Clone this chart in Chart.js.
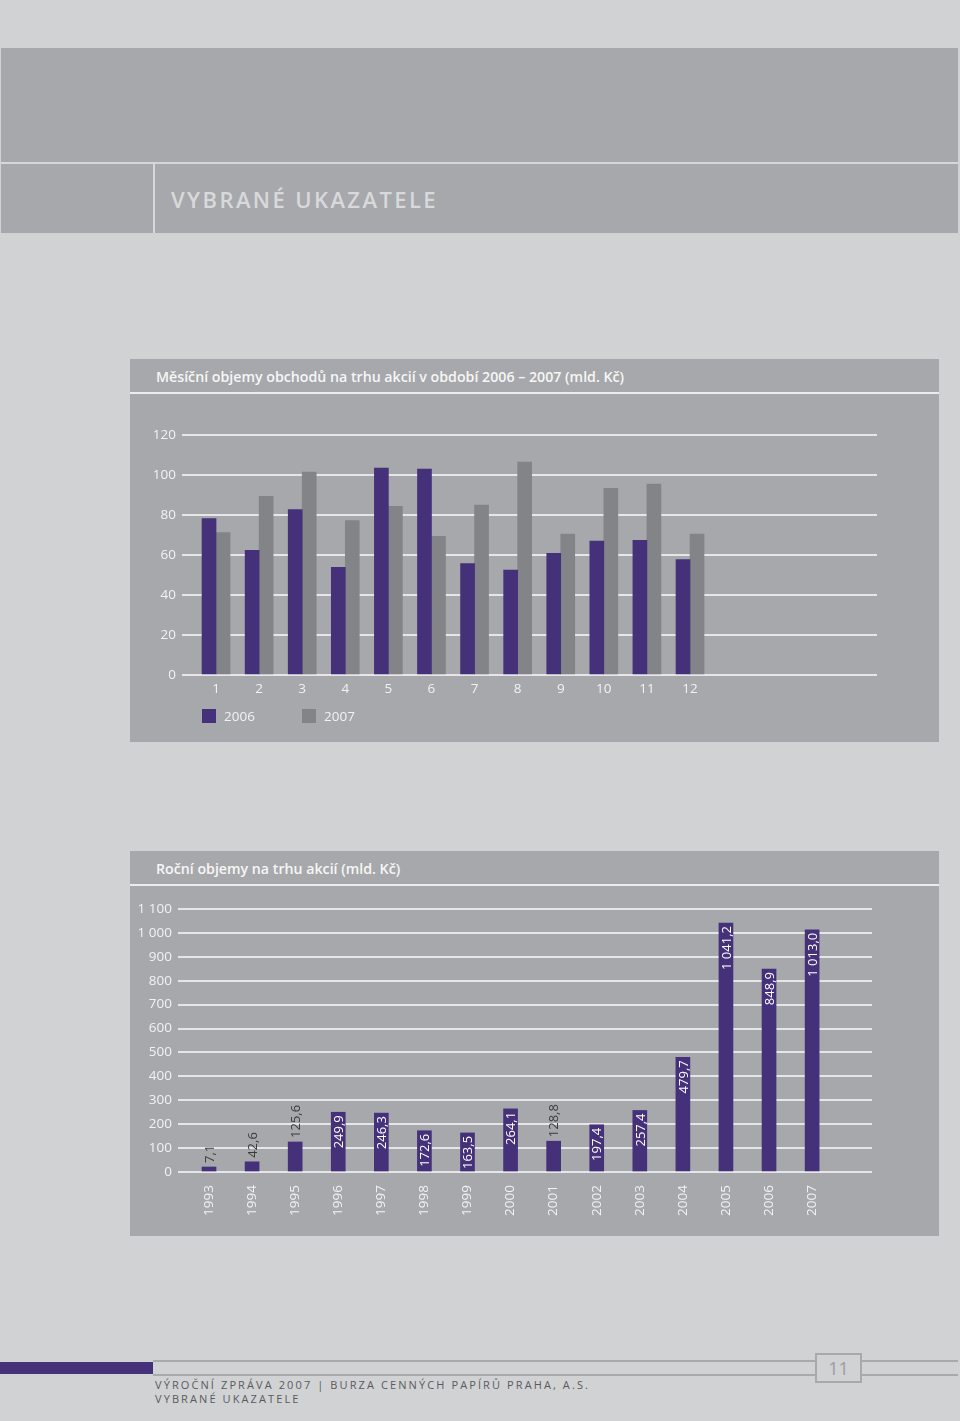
<!DOCTYPE html>
<html>
<head>
<meta charset="utf-8">
<script src="https://cdn.jsdelivr.net/npm/chart.js@4.4.0/dist/chart.umd.min.js"></script>
<style>
  body { margin: 0; width: 960px; height: 1421px; background: #d1d2d4; position: relative; overflow: hidden; font-family: "Open Sans", sans-serif; }
  .band { position: absolute; left: 1px; top: 48px; width: 957px; height: 185px; background: #a7a8ab; }
  .band .hline { position: absolute; left: 0; right: 0; top: 114px; height: 2px; background: #d6d7d9; }
  .band .vline { position: absolute; left: 152px; top: 116px; bottom: 0; width: 2px; background: #d6d7d9; }
  .band h1 { position: absolute; left: 170px; top: 136px; margin: 0; font-size: 22px; font-weight: 600; letter-spacing: 2.4px; color: #d8d9db; }
  .panel { position: absolute; left: 130px; width: 809px; background: #a7a8ab; }
  .panel .title { height: 33px; line-height: 36px; padding-left: 26px; color: #f6f6f6; font-weight: 600; font-size: 14.2px; border-bottom: 2px solid #ececee; }
  .panel .plot { position: absolute; left: 0; width: 809px; }
  .legend { position: absolute; top: 348px; left: 72px; font-size: 13.5px; color: #f2f2f2; }
  .legend span { position: absolute; white-space: nowrap; }
  .legend i { display: inline-block; width: 14px; height: 14px; vertical-align: -2px; margin-right: 8px; }
  .foot-bar { position: absolute; left: 0; top: 1362px; width: 153px; height: 12px; background: #45307a; }
  .foot-line { position: absolute; height: 2px; background: #a8a9ab; }
  .page-no { position: absolute; left: 815px; top: 1353px; width: 43px; height: 26px; border: 2px solid #a8a9ab; background: #d1d2d4; color: #9c9da0; font-size: 18px; text-align: center; line-height: 27px; }
  .foot-text { position: absolute; left: 155px; top: 1378px; font-size: 11px; line-height: 14px; letter-spacing: 2.1px; color: #5a5a5c; }
</style>
</head>
<body>

<div class="band">
  <div class="hline"></div>
  <div class="vline"></div>
  <h1>VYBRANÉ UKAZATELE</h1>
</div>

<div class="panel" style="top:359px;height:383px">
  <div class="title">Měsíční objemy obchodů na trhu akcií v období 2006 – 2007 (mld. Kč)</div>
  <div class="plot" style="top:34px;height:349px"><canvas id="monthly"></canvas></div>
  <div class="legend" id="monthly-legend"></div>
</div>

<div class="panel" style="top:851px;height:385px">
  <div class="title">Roční objemy na trhu akcií (mld. Kč)</div>
  <div class="plot" style="top:35px;height:350px"><canvas id="annual"></canvas></div>
</div>

<div class="foot-bar"></div>
<div class="foot-line" style="left:153px;width:662px;top:1360px"></div>
<div class="foot-line" style="left:153px;width:662px;top:1374px"></div>
<div class="foot-line" style="left:862px;width:96px;top:1360px"></div>
<div class="foot-line" style="left:862px;width:96px;top:1374px"></div>
<div class="page-no">11</div>
<div class="foot-text">VÝROČNÍ ZPRÁVA 2007 | BURZA CENNÝCH PAPÍRŮ PRAHA, A.S.<br>VYBRANÉ UKAZATELE</div>

<script>
// data
const MONTHS = [1, 2, 3, 4, 5, 6, 7, 8, 9, 10, 11, 12];
const VOL_2006 = [78.2, 62.3, 82.7, 53.8, 103.5, 103.0, 55.7, 52.5, 60.8, 67.0, 67.3, 57.7];
const VOL_2007 = [71.2, 89.3, 101.5, 77.2, 84.3, 69.3, 85.0, 106.5, 70.5, 93.3, 95.5, 70.5];

const YEARS = [1993, 1994, 1995, 1996, 1997, 1998, 1999, 2000, 2001, 2002, 2003, 2004, 2005, 2006, 2007];
const ANNUAL = [7.1, 42.6, 125.6, 249.9, 246.3, 172.6, 163.5, 264.1, 128.8, 197.4, 257.4, 479.7, 1041.2, 848.9, 1013.0];

const PURPLE = '#45307a';
const GREY = '#838487';
const GRID = '#e6e6e8';
const TICK = '#f2f2f2';
const FONT = { family: '"Open Sans", sans-serif', size: 13.5 };

// czech number format: 1 041,2
const fmtNum = (v, dec) => {
  const [i, d] = v.toFixed(dec).split('.');
  const int = i.replace(/\B(?=(\d{3})+$)/g, ' ');
  return d ? int + ',' + d : int;
};

// --- monthly chart ---
const monthlySets = [
  { label: '2006', data: VOL_2006, backgroundColor: PURPLE },
  { label: '2007', data: VOL_2007, backgroundColor: GREY }
];

new Chart(document.getElementById('monthly'), {
  type: 'bar',
  data: {
    labels: MONTHS,
    datasets: monthlySets.map(s => ({ ...s, barThickness: 14, borderWidth: 0 }))
  },
  options: {
    responsive: true,
    maintainAspectRatio: false,
    animation: false,
    layout: { padding: { top: 42, right: 62, left: 0, bottom: 0 } },
    plugins: { legend: { display: false }, tooltip: { enabled: false } },
    scales: {
      x: {
        type: 'linear',
        offset: false,
        min: 0.21,
        max: 16.34,
        grid: { display: false },
        border: { display: false },
        afterBuildTicks: s => { s.ticks = MONTHS.map(v => ({ value: v })); },
        afterFit: s => { s.height = 67; },
        ticks: { color: TICK, font: FONT, padding: -2, maxRotation: 0, autoSkip: false }
      },
      y: {
        min: 0,
        max: 120,
        grid: { color: GRID, lineWidth: 2, drawTicks: false },
        border: { display: false },
        afterFit: s => { s.width = 52; },
        ticks: { stepSize: 20, color: TICK, font: FONT, padding: 6 }
      }
    }
  }
});

// legend for the monthly chart
document.getElementById('monthly-legend').innerHTML = monthlySets.map((s, i) =>
  `<span style="left:${i * 100}px"><i style="background:${s.backgroundColor}"></i>${s.label}</span>`
).join('');

// --- annual chart ---
const barValueLabels = {
  id: 'barValueLabels',
  afterDatasetsDraw(chart) {
    const ctx = chart.ctx;
    const meta = chart.getDatasetMeta(0);
    ctx.save();
    ctx.font = '13px "Open Sans", sans-serif';
    ctx.textBaseline = 'middle';
    meta.data.forEach((bar, i) => {
      const txt = fmtNum(ANNUAL[i], 1);
      const w = ctx.measureText(txt).width;
      const inside = w + 4 < bar.base - bar.y;
      ctx.save();
      ctx.translate(bar.x, bar.y);
      ctx.rotate(-Math.PI / 2);
      if (inside) {
        ctx.textAlign = 'right';
        ctx.fillStyle = '#ffffff';
        ctx.fillText(txt, -3, 1);
      } else {
        ctx.textAlign = 'left';
        ctx.fillStyle = '#3a3a3c';
        ctx.fillText(txt, 4, 1);
      }
      ctx.restore();
    });
    ctx.restore();
  }
};

new Chart(document.getElementById('annual'), {
  type: 'bar',
  data: {
    labels: YEARS,
    datasets: [{ label: 'Roční objem', data: ANNUAL, backgroundColor: PURPLE, barThickness: 14, borderWidth: 0, minBarLength: 5 }]
  },
  options: {
    responsive: true,
    maintainAspectRatio: false,
    animation: false,
    layout: { padding: { top: 23, right: 67, left: 0, bottom: 0 } },
    plugins: { legend: { display: false }, tooltip: { enabled: false } },
    scales: {
      x: {
        type: 'linear',
        offset: false,
        min: 1992.28,
        max: 2008.39,
        grid: { display: false },
        border: { display: false },
        afterBuildTicks: s => { s.ticks = YEARS.map(v => ({ value: v })); },
        afterFit: s => { s.height = 64; },
        ticks: { color: TICK, font: FONT, padding: 5, minRotation: 90, maxRotation: 90, autoSkip: false, callback: v => String(v) }
      },
      y: {
        min: 0,
        max: 1100,
        grid: { color: GRID, lineWidth: 2, drawTicks: false },
        border: { display: false },
        afterFit: s => { s.width = 48; },
        ticks: { stepSize: 100, color: TICK, font: FONT, padding: 6, callback: v => fmtNum(v, 0) }
      }
    }
  },
  plugins: [barValueLabels]
});
</script>
</body>
</html>
